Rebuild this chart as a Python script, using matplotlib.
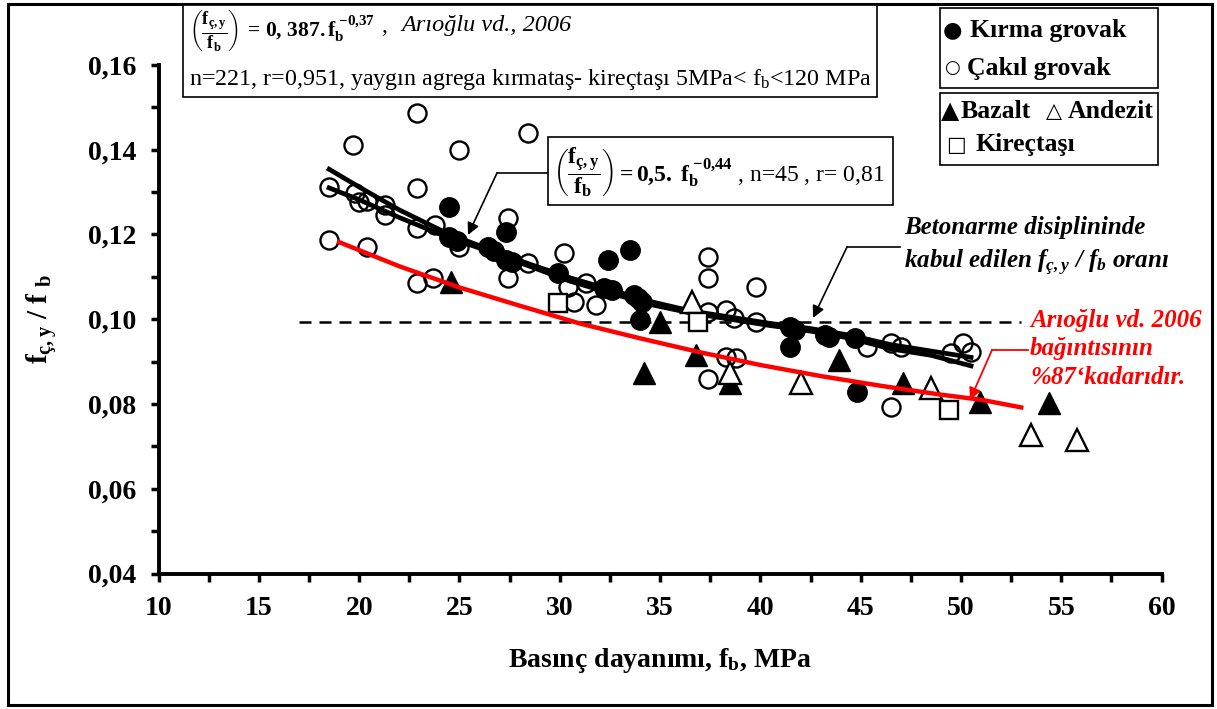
import matplotlib
matplotlib.use("Agg")
import matplotlib.pyplot as plt
from matplotlib.patches import Rectangle
from matplotlib.lines import Line2D
from matplotlib.ticker import MultipleLocator, FuncFormatter

plt.rcParams["font.family"] = ["Liberation Serif", "DejaVu Sans"]
plt.rcParams["mathtext.fontset"] = "custom"
plt.rcParams["mathtext.rm"] = "Liberation Serif"
plt.rcParams["mathtext.it"] = "Liberation Serif:italic"
plt.rcParams["mathtext.bf"] = "Liberation Serif:bold"
plt.rcParams["mathtext.bfit"] = "Liberation Serif:italic:bold"

W, H = 1217, 709

# --- data ---
kirma_x = [24.5, 24.5, 24.9, 27.3, 26.4, 26.7, 27.3, 27.6, 29.9, 32.4, 33.5,
           32.2, 32.6, 33.7, 34.1, 33.9, 34.0, 41.5, 41.7, 41.5, 43.4, 43.2,
           44.7, 44.8]
kirma_y = [0.1265, 0.1194, 0.1185, 0.1206, 0.1170, 0.1160, 0.1140, 0.1135,
           0.1110, 0.1140, 0.1163, 0.1073, 0.1070, 0.1057, 0.1040, 0.1050,
           0.0998, 0.0981, 0.0975, 0.0934, 0.0958, 0.0962, 0.0955, 0.0828]

cakil_x = [22.9, 19.7, 25.0, 28.4, 18.5, 22.9, 19.8, 20.0, 20.4, 21.3, 21.3,
           22.9, 23.8, 25.0, 27.4, 18.5, 20.4, 22.9, 23.7, 30.2, 27.4, 28.4,
           30.7, 31.8, 31.3, 30.4, 37.4, 37.4, 39.8, 37.4, 38.3, 38.7, 39.8,
           38.3, 38.8, 37.4, 45.3, 46.5, 47.0, 49.5, 50.1, 50.5, 46.5]
cakil_y = [0.1487, 0.1411, 0.1399, 0.1440, 0.1312, 0.1310, 0.1298, 0.1276,
           0.1280, 0.1270, 0.1246, 0.1215, 0.1222, 0.1170, 0.1239, 0.1187,
           0.1170, 0.1085, 0.1097, 0.1156, 0.1097, 0.1132, 0.1040, 0.1033,
           0.1085, 0.1076, 0.1147, 0.1097, 0.1076, 0.1017, 0.1021, 0.1002,
           0.0993, 0.0910, 0.0908, 0.0860, 0.0934, 0.0943, 0.0934, 0.0920,
           0.0943, 0.0922, 0.0792]

bazalt_x = [24.6, 35.0, 36.8, 34.2, 38.5, 43.9, 47.1, 50.95, 54.4]
bazalt_y = [0.1087, 0.0993, 0.0915, 0.0872, 0.0849, 0.0903, 0.0849, 0.0804, 0.0802]

andezit_x = [36.6, 38.5, 42.0, 48.5, 53.5, 55.8]
andezit_y = [0.1040, 0.0872, 0.0849, 0.0837, 0.0726, 0.0714]

kirec_x = [29.9, 36.9, 49.4]
kirec_y = [0.1038, 0.0993, 0.0785]

fit_x = [18.5, 20, 22, 24.5, 26.5, 28.5, 30.5, 32.5, 34.5, 36.5, 38.5, 40.5,
         42.5, 44.5, 46.5, 48.5, 50.5]
fit_upper = [0.1354, 0.1312, 0.1258, 0.1200, 0.1165, 0.1130, 0.1098, 0.1070,
             0.1042, 0.1020, 0.1005, 0.0990, 0.0978, 0.0962, 0.0940, 0.0925, 0.0910]
fit_lower = [0.1310, 0.1282, 0.1240, 0.1192, 0.1160, 0.1125, 0.1090, 0.1062,
             0.1035, 0.1015, 0.1000, 0.0985, 0.0972, 0.0955, 0.0930, 0.0915, 0.0890]

red_x = [19, 22, 25, 28, 31, 34, 37, 40, 43, 46, 49, 51, 53]
red_y = [0.1182, 0.1125, 0.1075, 0.1032, 0.0990, 0.0955, 0.0922, 0.0892,
         0.0866, 0.0843, 0.0822, 0.0810, 0.0792]

ref_ratio = 0.0993
ref_span = [17.0, 53.0]


def fp(x, y):
    """image pixel -> figure fraction"""
    return x / W, 1 - y / H


fig = plt.figure(figsize=(W / 100, H / 100), dpi=100)
ax = fig.add_axes([158.6 / W, 1 - 573.5 / H, 1003 / W, 508.5 / H])

ax.plot(ref_span, [ref_ratio, ref_ratio], color="black", lw=1.8,
        dashes=(4.8, 3.2), zorder=2)
ax.plot(fit_x, fit_upper, color="black", lw=3.4, zorder=4)
ax.plot(fit_x, fit_lower, color="black", lw=3.4, zorder=4)
ax.plot(cakil_x, cakil_y, "o", ms=13, mfc="none", mec="black", mew=1.7, zorder=3)
ax.plot(kirma_x, kirma_y, "o", ms=14, color="black", zorder=5)
ax.plot(bazalt_x, bazalt_y, "^", ms=16, color="black", zorder=5)
ax.plot(andezit_x, andezit_y, "^", ms=16, mfc="white", mec="black", mew=1.7, zorder=5)
ax.plot(kirec_x, kirec_y, "s", ms=13, mfc="white", mec="black", mew=1.7, zorder=5)
ax.plot(red_x, red_y, color="red", lw=3.2, zorder=6)

ax.set_xlim(10, 60)
ax.set_ylim(0.04, 0.16)
ax.xaxis.set_major_locator(MultipleLocator(5))
ax.xaxis.set_minor_locator(MultipleLocator(2.5))
ax.yaxis.set_major_locator(MultipleLocator(0.02))
ax.yaxis.set_minor_locator(MultipleLocator(0.01))
ax.yaxis.set_major_formatter(FuncFormatter(lambda v, p: f"{v:.2f}".replace(".", ",")))
for s in ("top", "right"):
    ax.spines[s].set_visible(False)
for s in ("left", "bottom"):
    ax.spines[s].set_linewidth(2.8)
ax.tick_params(which="both", direction="out", width=2.5, length=6)
ax.tick_params(labelsize=20, pad=10)
for lab in ax.get_xticklabels() + ax.get_yticklabels():
    lab.set_fontweight("bold")

ax.set_xlabel(r"Basınç dayanımı, f$_\mathbf{b}$, MPa", fontsize=20,
              fontweight="bold", labelpad=18)
ax.set_ylabel(r"f$_\mathbf{ç,y}$ / f $_\mathbf{b}$", fontsize=21,
              fontweight="bold", labelpad=20)

# outer frame
fig.patches.append(Rectangle((8 / W, 4 / H), 1204 / W, 701 / H, transform=fig.transFigure,
                             fill=False, lw=2.2, ec="black"))

# boxes
def box(x0, y0, x1, y1):
    fig.patches.append(Rectangle((x0 / W, 1 - y1 / H), (x1 - x0) / W, (y1 - y0) / H,
                                 transform=fig.transFigure, fc="white",
                                 ec="black", lw=1.2, zorder=10))

box(183, 5, 877, 97)
box(548, 137, 893, 205)
box(940, 8, 1158, 88)
box(940, 93, 1158, 165)

frac = r"\left(\dfrac{\mathbf{f_{ç,y}}}{\mathbf{f_b}}\right)"
fig.text(*fp(189, 31), "$" + frac + "$", fontsize=13, va="center", zorder=11)
fig.text(*fp(244, 30), r"$\mathbf{=\,0,\,387.f_b^{\ {-}0{,}37}}$",
         fontsize=15.5, va="center", zorder=11)
fig.text(*fp(381, 27), ",", fontsize=17, va="center", zorder=11)
fig.text(*fp(401, 25), "Arıoğlu vd., 2006", fontsize=17.5, style="italic",
         va="center", zorder=11)
fig.text(*fp(189, 80), r"n=221, r=0,951, yaygın agrega kırmataş- kireçtaşı 5MPa< f$_\mathrm{b}$<120 MPa",
         fontsize=17.3, va="center", zorder=11)

fig.text(*fp(553, 172), "$" + frac + r"\mathbf{=0{,}5.\ f_b^{\ {-}0{,}44}}$" + " , n=45 , r= 0,81",
         fontsize=17, va="center", zorder=11)

# legend boxes
sym = dict(family="DejaVu Sans", va="center", zorder=11)
lab = dict(fontsize=18.5, fontweight="bold", va="center", zorder=11)
fig.text(*fp(943, 30), "●", fontsize=16, **sym)
fig.text(*fp(970, 30), "Kırma grovak", **lab)
fig.text(*fp(944, 68), "○", fontsize=13, **sym)
fig.text(*fp(967, 68), "Çakıl grovak", **lab)
fig.text(*fp(941, 111), "▲", fontsize=17, **sym)
fig.text(*fp(961, 111), "Bazalt", **lab)
fig.text(*fp(1046, 111), "△", fontsize=15, **sym)
fig.text(*fp(1068, 111), "Andezit", **lab)
fig.text(*fp(946, 145), "□", fontsize=15, **sym)
fig.text(*fp(975, 145), "Kireçtaşı", **lab)

# annotation: fit box arrow
fig.add_artist(Line2D([548 / W, 497 / W], [1 - 173 / H, 1 - 173 / H],
                      transform=fig.transFigure, color="black", lw=1.2))
ax.annotate("", xy=(468, H - 235), xytext=(497, H - 173), xycoords="figure pixels",
            textcoords="figure pixels",
            arrowprops=dict(arrowstyle="-|>", color="black", lw=1.2,
                            mutation_scale=18, shrinkA=0, shrinkB=0))

# annotation: reference ratio
fig.text(*fp(904, 228), "Betonarme disiplininde", fontsize=18, fontweight="bold",
         style="italic", va="center")
fig.text(*fp(904, 263), r"kabul edilen $\mathbfit{f_{ç,y}}$ / $\mathbfit{f_b}$ oranı",
         fontsize=18, fontweight="bold", style="italic", va="center")
fig.add_artist(Line2D([900 / W, 847 / W], [1 - 247 / H, 1 - 247 / H],
                      transform=fig.transFigure, color="black", lw=1.2))
ax.annotate("", xy=(813, H - 318), xytext=(847, H - 247), xycoords="figure pixels",
            textcoords="figure pixels",
            arrowprops=dict(arrowstyle="-|>", color="black", lw=1.2,
                            mutation_scale=18, shrinkA=0, shrinkB=0))

# annotation: red curve
for i, t in enumerate(["Arıoğlu vd. 2006", "bağıntısının", "%87‘kadarıdır."]):
    fig.text(*fp(1030, 320 + i * 29), t, fontsize=18, fontweight="bold",
             style="italic", color="red", va="center")
fig.add_artist(Line2D([1028 / W, 992 / W], [1 - 350 / H, 1 - 350 / H],
                      transform=fig.transFigure, color="red", lw=1.3))
ax.annotate("", xy=(970, H - 400), xytext=(992, H - 350), xycoords="figure pixels",
            textcoords="figure pixels",
            arrowprops=dict(arrowstyle="-|>", color="red", lw=1.3,
                            mutation_scale=18, shrinkA=0, shrinkB=0))

fig.savefig("out.png", dpi=100)
